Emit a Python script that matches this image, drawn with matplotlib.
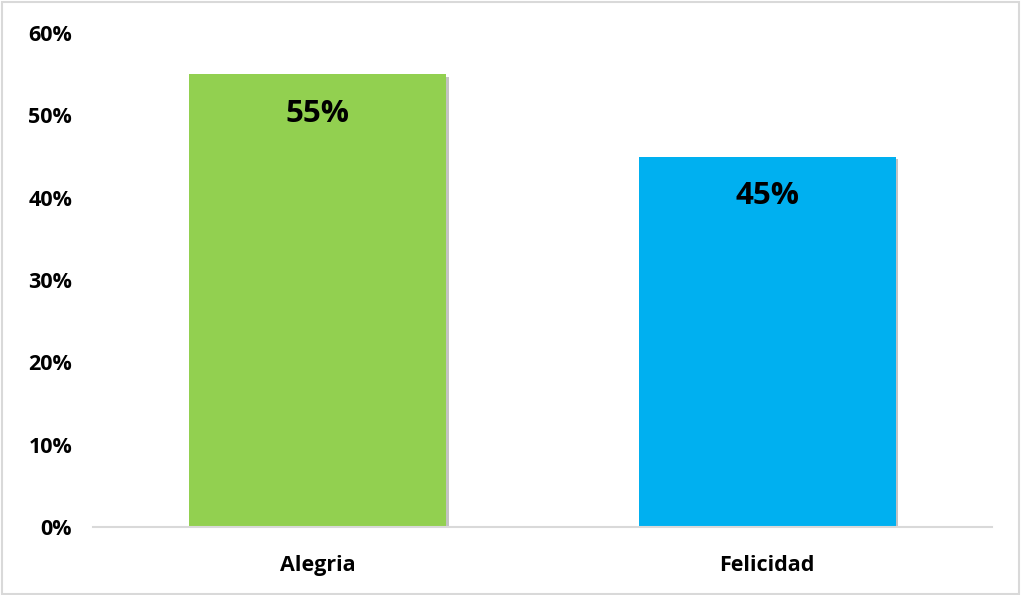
import matplotlib
matplotlib.use("Agg")
import matplotlib.pyplot as plt
import matplotlib.patheffects as pe
from matplotlib.patches import Rectangle

categories = ["Alegria", "Felicidad"]
values = [0.55, 0.45]
colors = ["#92D050", "#00B0F0"]
yticks = [0, 0.1, 0.2, 0.3, 0.4, 0.5, 0.6]

plt.rcParams["font.family"] = ["Open Sans", "DejaVu Sans"]

fig = plt.figure(figsize=(10.21, 5.95), dpi=100)
ax = fig.add_axes([93/1021, 1-527/595, 899/1021, 494/595])

x = range(len(categories))
bars = ax.bar(x, values, width=0.571, color=colors, zorder=2)
for b in bars:
    b.set_path_effects([pe.SimplePatchShadow(offset=(2, -2), shadow_rgbFace="#888888", alpha=0.5), pe.Normal()])

for xi, v in zip(x, values):
    ax.text(xi, v - 0.048, f"{int(round(v*100))}%", ha="center", va="center",
            fontsize=22.5, fontweight="bold", color="black")

ax.set_xlim(-0.5, 1.5)
ax.set_ylim(0, 0.6)
ax.set_yticks(yticks)
ax.set_yticklabels([f"{int(round(t*100))}%" for t in yticks], fontsize=15.5, fontweight="bold")
ax.set_xticks(list(x))
ax.set_xticklabels(categories, fontsize=15.5, fontweight="bold")
ax.tick_params(axis="x", length=0, pad=20)
ax.tick_params(axis="y", length=0, pad=15)
for s in ["top", "right", "left"]:
    ax.spines[s].set_visible(False)
ax.spines["bottom"].set_color("#D9D9D9")
ax.spines["bottom"].set_linewidth(1.5)

fig.patches.append(Rectangle((0.002, 0.002), 0.996, 0.995, transform=fig.transFigure,
                             fill=False, edgecolor="#D9D9D9", linewidth=1.5))

fig.savefig("out.png", dpi=100)
